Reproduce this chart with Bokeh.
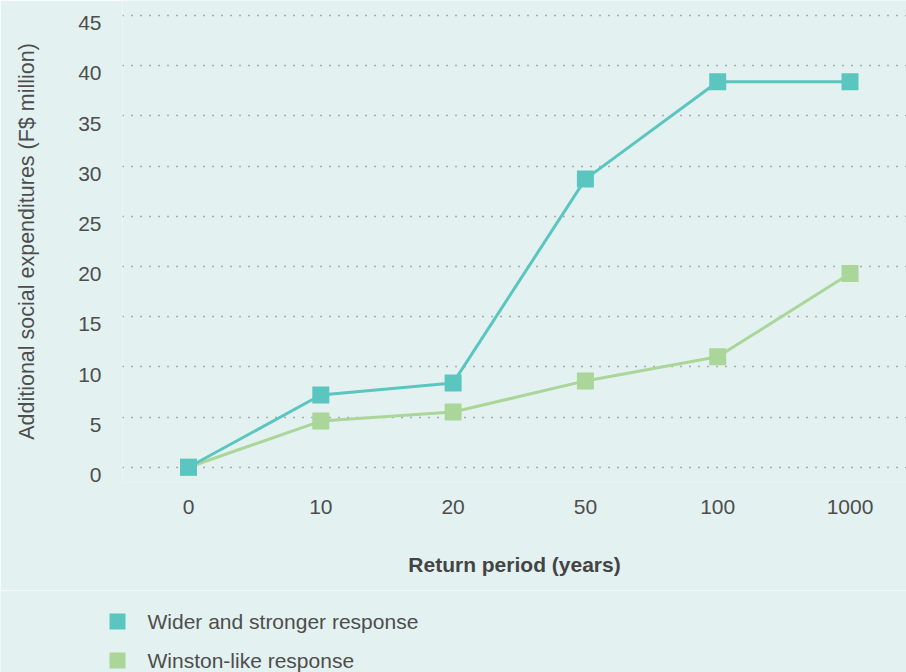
from bokeh.plotting import figure
from bokeh.models import Range1d, LinearAxis, FixedTicker, Grid
from bokeh.layouts import column
from bokeh.core.properties import value
from bokeh.embed import file_html
from bokeh.resources import INLINE

# ---- data ----
return_periods = ["0", "10", "20", "50", "100", "1000"]
wider_response = [0, 7.2, 8.4, 28.7, 38.4, 38.4]
winston_response = [0, 4.6, 5.5, 8.6, 11.0, 19.3]
y_tick_values = [0, 5, 10, 15, 20, 25, 30, 35, 40, 45]
series_labels = ["Wider and stronger response", "Winston-like response"]
x_title = "Return period (years)"
y_title = "Additional social expenditures (F$ million)"

BG = "#e3f2f0"
TEAL = "#5bc5bf"
GREEN = "#aad699"
TXT = "#4d4d4d"
FONT = "Liberation Sans"

xs = list(range(len(return_periods)))

Y0, Y1 = -1.52, 46.49
p = figure(width=906, height=590, output_backend="svg", toolbar_location=None,
           x_range=Range1d(-0.499, 5.427), y_range=Range1d(Y0, Y1),
           y_axis_location=None, x_axis_location="below",
           background_fill_color=BG, border_fill_color=BG,
           min_border_left=122, min_border_right=0, min_border_top=0,
           min_border_bottom=108)
p.frame_align = False
p.outline_line_color = None
p.xgrid.visible = False
for g in p.ygrid:
    g.visible = False

# dotted horizontal grid
grid = Grid(dimension=1, ticker=FixedTicker(ticks=y_tick_values),
            grid_line_color="#6a6a6a", grid_line_dash="1 8", grid_line_width=1.4)
p.add_layout(grid)

# y axis (labels sit just below their grid line, as in the reference)
shift = 0.77
p.extra_y_ranges = {"lab": Range1d(Y0 + shift, Y1 + shift)}
yax = LinearAxis(y_range_name="lab", ticker=FixedTicker(ticks=y_tick_values))
yax.axis_line_color = None
yax.major_tick_line_color = None
yax.minor_tick_line_color = None
yax.major_label_standoff = 15
yax.major_label_text_font = FONT
yax.major_label_text_font_size = "21px"
yax.major_label_text_color = TXT
yax.axis_label = y_title
yax.axis_label_text_font = FONT
yax.axis_label_text_font_size = "21.5px"
yax.axis_label_text_font_style = "normal"
yax.axis_label_text_color = TXT
yax.axis_label_standoff = 36
p.add_layout(yax, "left")

xax = p.xaxis[0]
xax.ticker = FixedTicker(ticks=xs)
xax.major_label_overrides = {i: lab for i, lab in zip(xs, return_periods)}
xax.axis_line_color = None
xax.major_tick_line_color = None
xax.minor_tick_line_color = None
xax.major_label_standoff = 11
xax.major_label_text_font = FONT
xax.major_label_text_font_size = "21px"
xax.major_label_text_color = TXT
xax.axis_label = x_title
xax.axis_label_text_font = FONT
xax.axis_label_text_font_size = "21px"
xax.axis_label_text_font_style = "bold"
xax.axis_label_text_color = "#444444"
xax.axis_label_standoff = 36

# series
p.line(xs, winston_response, line_color=GREEN, line_width=3, line_join="round")
p.scatter(xs, winston_response, marker="square", size=17,
          fill_color=GREEN, line_color=None)
p.line(xs, wider_response, line_color=TEAL, line_width=3, line_join="round")
p.scatter(xs, wider_response, marker="square", size=17,
          fill_color=TEAL, line_color=None)

# ---- legend (separate strip below the chart) ----
leg = figure(width=906, height=82, output_backend="svg", toolbar_location=None,
             x_range=Range1d(-117, 789), y_range=Range1d(1.308, -0.795),
             x_axis_location=None, y_axis_location=None,
             background_fill_color=BG, border_fill_color=BG, min_border=0)
leg.frame_align = False
leg.outline_line_color = None
leg.xgrid.visible = False
leg.ygrid.visible = False
idx = list(range(len(series_labels)))
leg.scatter([0] * len(idx), idx, marker="square", size=16,
            fill_color=[TEAL, GREEN], line_color=None)
leg.text([0] * len(idx), idx, text=series_labels, x_offset=30,
         text_baseline="middle", text_align="left",
         text_font=value(FONT), text_font_size="21px", text_color=TXT)

layout = column(p, leg, spacing=0)
open("out.html", "w").write(file_html(layout, INLINE))
